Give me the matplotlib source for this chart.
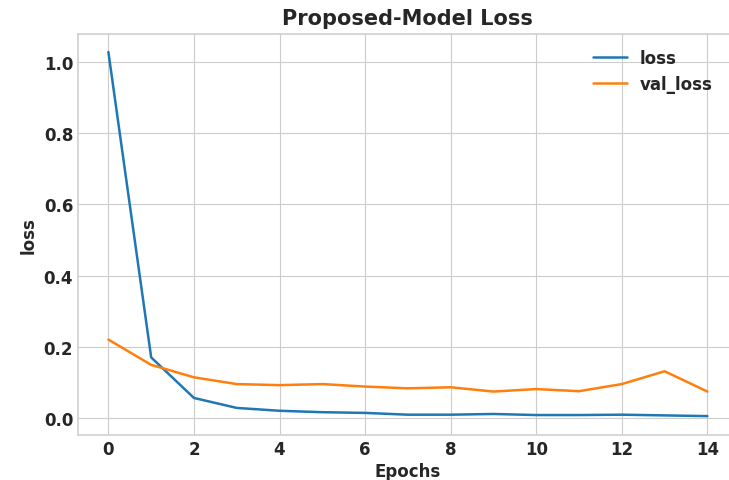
import matplotlib
matplotlib.use("Agg")
import matplotlib.pyplot as plt

# training history
epochs = list(range(15))
loss = [1.028, 0.170, 0.056, 0.028, 0.020, 0.016, 0.014, 0.009, 0.009, 0.011, 0.008, 0.008, 0.009, 0.007, 0.005]
val_loss = [0.220, 0.149, 0.114, 0.095, 0.092, 0.095, 0.088, 0.083, 0.086, 0.074, 0.081, 0.075, 0.095, 0.131, 0.074]

plt.style.use('seaborn-v0_8-whitegrid')
plt.rcParams['font.family'] = 'DejaVu Sans'
plt.rcParams['font.weight'] = 'bold'
plt.rcParams['axes.labelweight'] = 'bold'
plt.rcParams['axes.titleweight'] = 'bold'
plt.rcParams['text.color'] = '#262626'
plt.rcParams['xtick.color'] = '#262626'
plt.rcParams['ytick.color'] = '#262626'
plt.rcParams['axes.labelcolor'] = '#262626'

fig = plt.figure(figsize=(7.29, 4.81), dpi=100)
# the original axes runs a little past the right edge of the image
ax = fig.add_axes([0.107, 0.0936, 0.905, 0.834])
ax.plot(epochs, loss, color='#1f77b4', label='loss', linewidth=1.8)
ax.plot(epochs, val_loss, color='#ff7f0e', label='val_loss', linewidth=1.8)
ax.set_title('Proposed-Model Loss', fontsize=15, pad=7)
ax.set_xlabel('Epochs', fontsize=12, labelpad=3)
ax.set_ylabel('loss', fontsize=12)
ax.set_xticks(range(0, 15, 2))
ax.set_xlim(-0.71, 14.71)
ax.set_ylim(-0.048, 1.079)
ax.tick_params(labelsize=12)
for s in ax.spines.values():
    s.set_visible(True)
    s.set_color('#d0d0d0')
    s.set_linewidth(1.2)
ax.legend(loc='upper right', bbox_to_anchor=(0.985, 1.0), fontsize=12, frameon=False)

fig.savefig('out.png', dpi=100)
